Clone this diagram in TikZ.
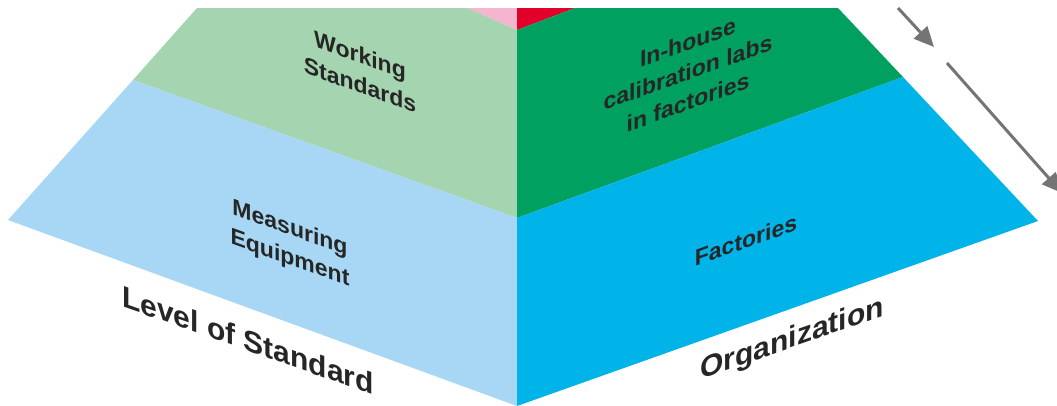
\documentclass[tikz,border=0pt]{standalone}
\usepackage{fontspec}
\setmainfont{Liberation Sans}
\usetikzlibrary{arrows.meta}

\definecolor{paleGreen}{HTML}{A5D4B0}
\definecolor{paleBlue}{HTML}{A7D7F4}
\definecolor{deepGreen}{HTML}{00A060}
\definecolor{deepBlue}{HTML}{00B4EA}
\definecolor{topPink}{HTML}{F4B6CF}
\definecolor{topRed}{HTML}{E2002B}
\definecolor{arrowGray}{HTML}{747474}

\begin{document}
\begin{tikzpicture}
	[x=1pt,y=-1pt,
	face label/.style={align=center,text=black!85,font=\fontsize{23}{30}\selectfont\bfseries},
	left face/.style={face label,yslant=-0.36},
	right face/.style={face label,yslant=0.36},
	side label/.style={text=black!85,font=\fontsize{30}{36}\selectfont\bfseries},
	trend arrow/.style={color=arrowGray,line width=3pt,-{Triangle[length=20pt,width=18pt]}}]
	\useasboundingbox (0,0) rectangle (1057,405);
	\clip (0,0) rectangle (1057,405);
	
	% faces of the pyramid
	\fill[topPink] (467,8) -- (517,8) -- (517,30) -- cycle;
	\fill[topRed] (517,8) -- (575,8) -- (517,30) -- cycle;
	\fill[paleGreen] (197,8) -- (467,8) -- (517,30) -- (517,218) -- (133,80) -- cycle;
	\fill[deepGreen] (575,8) -- (838,8) -- (903,77) -- (517,218) -- (517,30) -- cycle;
	\fill[paleBlue] (133,80) -- (517,218) -- (517,406) -- (8,220) -- cycle;
	\fill[deepBlue] (517,218) -- (903,77) -- (1038,221) -- (517,406) -- cycle;
	
	\node [left face] (ws) at (360,70) {Working\\Standards};
	\node [left face] (me) at (290,244) {Measuring\\Equipment};
	\node [right face] (ih) at (688,72) {In-house\\calibration labs\\in factories};
	\node [right face] (fa) at (746,240) {Factories};
	
	\node [side label,yslant=-0.35] (lv) at (248,340) {Level of Standard};
	\node [side label,yslant=0.35] (og) at (792,340) {Organization};
	
	\coordinate (a1) at (898,8);
	\coordinate (b1) at (934,47);
	\coordinate (a2) at (947,63);
	\coordinate (b2) at (1062,193);
	
	\path[trend arrow]
	(a1) edge (b1)
	(a2) edge (b2)
	;
	
\end{tikzpicture}
\end{document}
